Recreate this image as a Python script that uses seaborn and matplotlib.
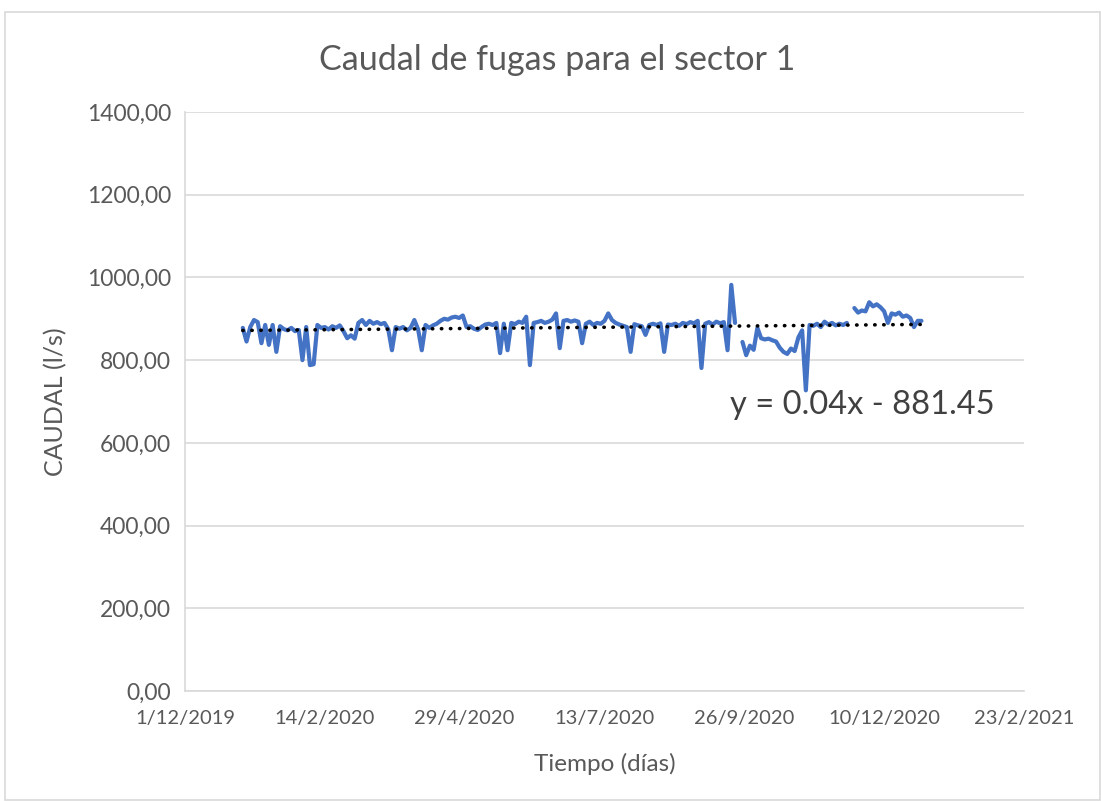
"""Caudal de fugas para el sector 1 — serie diaria con línea de tendencia."""

import numpy as np
import pandas as pd
import matplotlib

matplotlib.use("Agg")

import matplotlib.pyplot as plt
from matplotlib.patches import Rectangle
import seaborn as sns

# --- datos (cada 2 días, NaN = sin dato) ---
fecha_inicio = "2020-01-01"
fecha_fin = "2020-12-31"
caudal = [
    878, 845, 880, 897, 892, 841, 885, 837, 885, 820,
    882, 875, 872, 878, 870, 873, 800, 880, 788, 790,
    885, 878, 880, 874, 882, 878, 884, 870, 853, 860,
    852, 890, 897, 885, 895, 888, 892, 887, 890, 875,
    824, 880, 876, 880, 872, 878, 897, 875, 824, 885,
    878, 884, 888, 895, 900, 898, 903, 905, 902, 908,
    880, 882, 876, 873, 880, 886, 888, 885, 890, 817,
    888, 824, 890, 887, 893, 890, 905, 788, 890, 892,
    895, 890, 893, 898, 913, 829, 895, 897, 893, 896,
    893, 841, 888, 893, 885, 890, 888, 895, 913, 897,
    890, 886, 883, 880, 820, 887, 884, 882, 861, 885,
    888, 885, 889, 820, 886, 885, 888, 883, 890, 887,
    892, 889, 895, 781, 888, 892, 886, 893, 889, 892,
    824, 982, 890, np.nan, 844, 812, 835, 825, 878, 853,
    850, 852, 848, 845, 830, 820, 815, 828, 822, 855,
    872, 727, 885, 883, 888, 880, 893, 886, 890, 884,
    888, 885, 890, np.nan, 926, 915, 920, 918, 940, 930,
    935, 928, 918, 890, 913, 910, 915, 905, 908, 902,
    880, 895, 895,
]

# línea de tendencia lineal (Excel: x = número de serie de fecha)
pendiente = 0.04
ordenada = -881.45
etiqueta_tendencia = "y = 0.04x - 881.45"

ticks_x = ["2019-12-01", "2020-02-14", "2020-04-29", "2020-07-13",
           "2020-09-26", "2020-12-10", "2021-02-23"]
etiquetas_x = ["1/12/2019", "14/2/2020", "29/4/2020", "13/7/2020",
               "26/9/2020", "10/12/2020", "23/2/2021"]
ticks_y = [0, 200, 400, 600, 800, 1000, 1200, 1400]

AZUL = "#4472C4"
GRIS_TEXTO = "#595959"
GRIS_LINEA = "#D9D9D9"

sns.set_style("white")
plt.rcParams["font.family"] = ["Lato", "DejaVu Sans"]

fechas = pd.date_range(fecha_inicio, fecha_fin, freq="2D")
df = pd.DataFrame({"fecha": fechas, "caudal": caudal})
# tramos separados por huecos
df["tramo"] = df["caudal"].isna().cumsum()
df = df.dropna()

fig = plt.figure(figsize=(11.01, 8.01), dpi=100)
ax = fig.add_axes([185 / 1101, 1 - 691 / 801, 839 / 1101, 579 / 801])

# borde del área del gráfico
fig.patches.append(Rectangle((5 / 1101, 0.001), 1 - 5 / 1101 - 0.001, 1 - 12 / 801 - 0.001,
                             transform=fig.transFigure, fill=False,
                             edgecolor=GRIS_LINEA, linewidth=1.2))

sns.lineplot(data=df, x="fecha", y="caudal", units="tramo", estimator=None,
             color=AZUL, linewidth=3.0, ax=ax, legend=False)

# tendencia
extremos = pd.to_datetime([fecha_inicio, fecha_fin])
serie_excel = (extremos - pd.Timestamp("1899-12-30")).days.values
tendencia = pendiente * serie_excel + ordenada
ax.plot(extremos, tendencia, color="black", linewidth=2.6,
        linestyle=(0, (0.1, 2.4)), dash_capstyle="round", zorder=3)

ax.text(0.65, 0.494, etiqueta_tendencia, transform=ax.transAxes,
        ha="left", va="center", fontsize=23.5, color="#404040")

ax.set_xlim(pd.Timestamp(ticks_x[0]), pd.Timestamp(ticks_x[-1]))
ax.set_ylim(0, 1400)
ax.set_xticks(pd.to_datetime(ticks_x))
ax.set_xticklabels(etiquetas_x)
ax.set_yticks(ticks_y)
ax.set_yticklabels([f"{v:.2f}".replace(".", ",") for v in ticks_y])
ax.tick_params(axis="both", length=0, colors=GRIS_TEXTO)
ax.tick_params(axis="x", labelsize=14.5, pad=14)
ax.tick_params(axis="y", labelsize=16.5, pad=10)

ax.yaxis.grid(True, color=GRIS_LINEA, linewidth=1.2)
ax.xaxis.grid(False)
ax.set_axisbelow(True)
for lado in ["top", "right"]:
    ax.spines[lado].set_visible(False)
for lado in ["left", "bottom"]:
    ax.spines[lado].set_color(GRIS_LINEA)
    ax.spines[lado].set_linewidth(1.2)

ax.set_xlabel("Tiempo (días)", fontsize=17.5, color=GRIS_TEXTO, labelpad=18)
ax.set_ylabel("CAUDAL (l/s)", fontsize=18, color=GRIS_TEXTO, labelpad=14)
fig.text(557 / 1101, 1 - 60 / 801, "Caudal de fugas para el sector 1",
         ha="center", va="center", fontsize=24.5, color=GRIS_TEXTO)

fig.savefig("out.png", dpi=100)
plt.close(fig)
